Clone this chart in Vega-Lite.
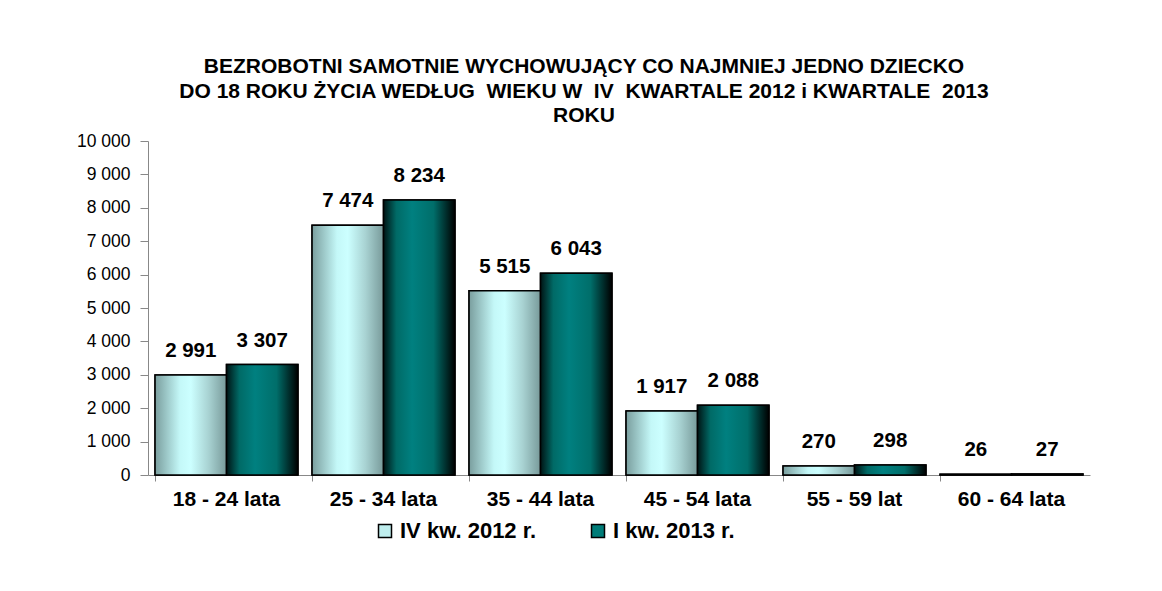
{
  "$schema": "https://vega.github.io/schema/vega-lite/v6.json",
  "width": 942,
  "height": 334,
  "autosize": {"type": "none"},
  "padding": {"left": 148, "top": 141, "right": 72, "bottom": 116},
  "background": "white",
  "title": {
    "text": ["BEZROBOTNI SAMOTNIE WYCHOWUJĄCY CO NAJMNIEJ JEDNO DZIECKO", "DO 18 ROKU ŻYCIA WEDŁUG\u00a0 WIEKU W\u00a0 IV\u00a0 KWARTALE 2012 i KWARTALE\u00a0 2013", "ROKU"],
    "font": "Liberation Sans",
    "fontSize": 21,
    "fontWeight": "bold",
    "lineHeight": 24.5,
    "color": "black",
    "anchor": "middle",
    "offset": 6,
    "dx": -35
  },
  "config": {
    "locale": {"number": {"decimal": ",", "thousands": " ", "grouping": [3], "currency": ["", " zł"]}},
    "view": {"stroke": null},
    "font": "Liberation Sans"
  },
  "data": {
    "values": [
      {"age": "18 - 24 lata", "series": "IV kw. 2012 r.", "value": 2991},
      {"age": "18 - 24 lata", "series": "I kw. 2013 r.", "value": 3307},
      {"age": "25 - 34 lata", "series": "IV kw. 2012 r.", "value": 7474},
      {"age": "25 - 34 lata", "series": "I kw. 2013 r.", "value": 8234},
      {"age": "35 - 44 lata", "series": "IV kw. 2012 r.", "value": 5515},
      {"age": "35 - 44 lata", "series": "I kw. 2013 r.", "value": 6043},
      {"age": "45 - 54 lata", "series": "IV kw. 2012 r.", "value": 1917},
      {"age": "45 - 54 lata", "series": "I kw. 2013 r.", "value": 2088},
      {"age": "55 - 59 lat", "series": "IV kw. 2012 r.", "value": 270},
      {"age": "55 - 59 lat", "series": "I kw. 2013 r.", "value": 298},
      {"age": "60 - 64 lata", "series": "IV kw. 2012 r.", "value": 26},
      {"age": "60 - 64 lata", "series": "I kw. 2013 r.", "value": 27}
    ]
  },
  "encoding": {
    "x": {
      "field": "age", "type": "nominal", "sort": null,
      "scale": {"paddingInner": 0.09, "paddingOuter": 0.045},
      "axis": {
        "title": null, "labelAngle": 0, "labelFont": "Liberation Sans", "labelFontSize": 21, "labelFontWeight": "bold",
        "labelColor": "black", "tickSize": 6, "tickColor": "#888", "domainColor": "#888", "labelPadding": 7, "bandPosition": 0
      }
    },
    "xOffset": {
      "field": "series", "type": "nominal", "sort": null,
      "scale": {"domain": ["IV kw. 2012 r.", "I kw. 2013 r."], "paddingInner": 0, "paddingOuter": 0}
    },
    "y": {
      "field": "value", "type": "quantitative",
      "scale": {"domain": [0, 10000], "nice": false},
      "axis": {
        "title": null, "grid": false, "values": [0, 1000, 2000, 3000, 4000, 5000, 6000, 7000, 8000, 9000, 10000],
        "format": ",d", "labelFont": "Liberation Sans", "labelFontSize": 17.5, "labelColor": "black",
        "tickSize": 8, "tickColor": "#888", "domainColor": "#888", "labelPadding": 10
      }
    }
  },
  "layer": [
    {
      "mark": {"type": "bar", "stroke": "black", "strokeWidth": 1.5},
      "encoding": {
        "color": {
          "field": "series", "type": "nominal", "sort": null,
          "scale": {"domain": ["IV kw. 2012 r.", "I kw. 2013 r."], "range": ["#bfeeee", "#007c78"]},
          "legend": {
            "title": null, "orient": "none", "legendX": 226, "legendY": 379, "direction": "horizontal",
            "symbolType": "square", "symbolSize": 169, "symbolStrokeColor": "black", "symbolStrokeWidth": 1.5,
            "symbolOpacity": 1, "labelFont": "Liberation Sans", "labelFontSize": 22, "labelFontWeight": "bold",
            "labelColor": "black", "columnPadding": 50, "labelOffset": 4
          }
        }
      }
    },
    {
      "transform": [{"filter": "datum.series === 'IV kw. 2012 r.'"}],
      "mark": {
        "type": "bar", "stroke": "black", "strokeWidth": 1.5,
        "fill": {
          "gradient": "linear", "x1": 0, "x2": 1, "y1": 0, "y2": 0,
          "stops": [
            {"offset": 0, "color": "#7a9e9e"},
            {"offset": 0.35, "color": "#c4f8f8"},
            {"offset": 0.5, "color": "#ccffff"},
            {"offset": 0.75, "color": "#a8d2d2"},
            {"offset": 1, "color": "#789a9a"}
          ]
        }
      }
    },
    {
      "transform": [{"filter": "datum.series === 'I kw. 2013 r.'"}],
      "mark": {
        "type": "bar", "stroke": "black", "strokeWidth": 1.5,
        "fill": {
          "gradient": "linear", "x1": 0, "x2": 1, "y1": 0, "y2": 0,
          "stops": [
            {"offset": 0, "color": "#001414"},
            {"offset": 0.18, "color": "#006a66"},
            {"offset": 0.4, "color": "#008080"},
            {"offset": 0.7, "color": "#006e6a"},
            {"offset": 1, "color": "#000000"}
          ]
        }
      }
    },
    {
      "mark": {"type": "text", "baseline": "middle", "dy": -24, "font": "Liberation Sans", "fontSize": 20.5, "fontWeight": "bold", "color": "black"},
      "encoding": {
        "text": {"field": "value", "type": "quantitative", "format": ",d"}
      }
    }
  ]
}
